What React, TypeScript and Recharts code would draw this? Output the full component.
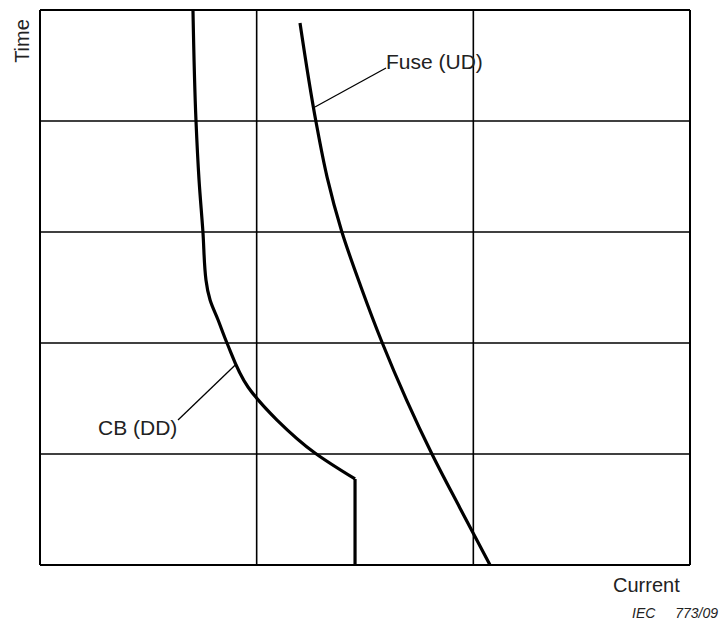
import { LineChart, Line, XAxis, YAxis, ReferenceLine } from "recharts";

// axis is in grid units: 3 current divisions, 5 time divisions
const currentGrid = [0, 1, 2, 3];
const timeGrid = [0, 1, 2, 3, 4, 5];

const fuseCurrent = [1.2, 1.274, 1.325, 1.392, 1.4815, 1.578, 1.692, 1.809, 1.938, 2.077];
const fuseTime = [4.883, 3.991, 3.495, 3.009, 2.505, 2.009, 1.486, 1.0, 0.514, 0];

const cbCurrent = [0.706, 0.72, 0.734, 0.752, 0.766, 0.785, 0.822, 0.863, 0.96, 1.094, 1.269, 1.454];
const cbTime = [5.0, 4.0, 3.47, 3.0, 2.568, 2.387, 2.207, 2.0, 1.604, 1.306, 1.009, 0.775];

const cbStemCurrent = [1.454, 1.454];
const cbStemTime = [0.775, 0];

const fuseLeader = [
  { x: 1.269, y: 4.126 },
  { x: 1.597, y: 4.477 },
];
const cbLeader = [
  { x: 0.9, y: 1.8 },
  { x: 0.637, y: 1.306 },
];

const toPoints = (xs: number[], ys: number[]) => xs.map((x, i) => ({ x, y: ys[i] }));

const fuseData = toPoints(fuseCurrent, fuseTime);
const cbData = toPoints(cbCurrent, cbTime);
const cbStem = toPoints(cbStemCurrent, cbStemTime);

const FONT = "'Liberation Sans', Arial, sans-serif";

export default function App() {
  return (
    <div style={{ position: "absolute", left: 0, top: 0, width: 721, height: 623, background: "#fff" }}>
      <LineChart width={721} height={623} margin={{ top: 10, right: 31, bottom: 58, left: 40 }}>
        <XAxis type="number" dataKey="x" domain={[0, 3]} hide />
        <YAxis type="number" dataKey="y" domain={[0, 5]} hide />
        {currentGrid.map((v) => (
          <ReferenceLine key={`vx-${v}`} x={v} stroke="#000" strokeWidth={v === 1 || v === 2 ? 1.6 : 2} />
        ))}
        {timeGrid.map((v) => (
          <ReferenceLine key={`hy-${v}`} y={v} stroke="#000" strokeWidth={v === 0 || v === 5 ? 2 : 1.6} />
        ))}
        <ReferenceLine segment={fuseLeader} stroke="#000" strokeWidth={1.3} />
        <ReferenceLine segment={cbLeader} stroke="#000" strokeWidth={1.3} />
        <Line
          data={fuseData}
          dataKey="y"
          type="monotoneY"
          stroke="#000"
          strokeWidth={3.2}
          dot={false}
          isAnimationActive={false}
        />
        <Line
          data={cbData}
          dataKey="y"
          type="monotoneY"
          stroke="#000"
          strokeWidth={3.2}
          dot={false}
          isAnimationActive={false}
        />
        <Line
          data={cbStem}
          dataKey="y"
          type="linear"
          stroke="#000"
          strokeWidth={3.2}
          dot={false}
          isAnimationActive={false}
        />
      </LineChart>
      <svg
        width={721}
        height={623}
        style={{ position: "absolute", left: 0, top: 0, pointerEvents: "none" }}
        fontFamily={FONT}
      >
        <text x={28.5} y={41} fontSize={20} fill="#222" textAnchor="middle" transform="rotate(-90, 28.5, 41)">
          Time
        </text>
        <text x={386} y={69} fontSize={21} fill="#222">
          Fuse (UD)
        </text>
        <text x={98} y={435} fontSize={21} fill="#222">
          CB (DD)
        </text>
        <text x={613} y={592} fontSize={20} fill="#222">
          Current
        </text>
        <text x={632} y={618} fontSize={14} fontStyle="italic" fill="#222">
          IEC
        </text>
        <text x={718} y={618} fontSize={14} fontStyle="italic" fill="#222" textAnchor="end">
          773/09
        </text>
      </svg>
    </div>
  );
}
